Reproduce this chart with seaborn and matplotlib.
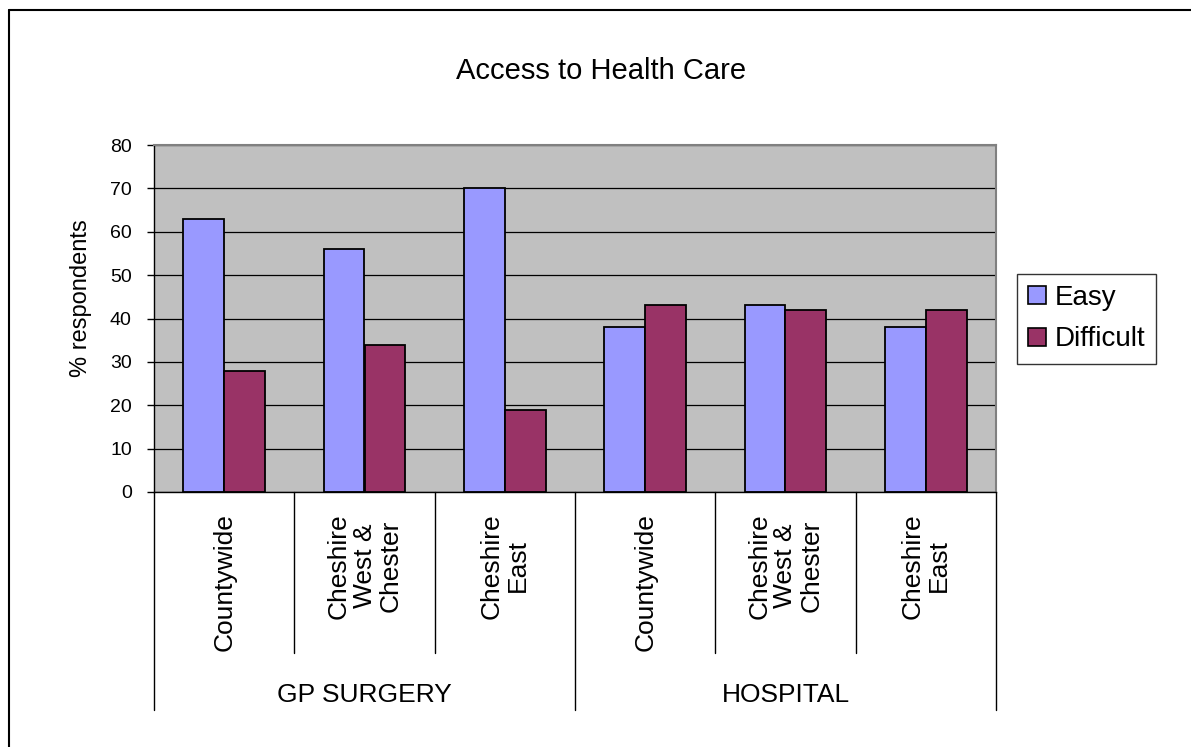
import matplotlib
matplotlib.use("Agg")
import matplotlib.pyplot as plt
import matplotlib.transforms as mtransforms
from matplotlib.lines import Line2D
from matplotlib.patches import Patch
import seaborn as sns
import pandas as pd

# Survey results: share of respondents finding access easy / difficult
groups = ["GP SURGERY", "HOSPITAL"]
areas = ["Countywide", "Cheshire\nWest &\nChester", "Cheshire\nEast"]
series = ["Easy", "Difficult"]
easy = [63, 56, 70, 38, 43, 38]
difficult = [28, 34, 19, 43, 42, 42]
y_ticks = [0, 10, 20, 30, 40, 50, 60, 70, 80]
colors = ["#9999FF", "#993366"]

slots = [f"{g}|{a}" for g in groups for a in areas]
rows = []
for slot, e, d in zip(slots, easy, difficult):
    rows.append({"slot": slot, "series": series[0], "value": e})
    rows.append({"slot": slot, "series": series[1], "value": d})
df = pd.DataFrame(rows)

sns.set_theme(style="white")
plt.rcParams["font.family"] = ["Liberation Sans", "DejaVu Sans"]
plt.rcParams["text.color"] = "black"
plt.rcParams["axes.labelcolor"] = "black"
plt.rcParams["ytick.color"] = "black"

W, H = 1191, 747
fig = plt.figure(figsize=(W / 100, H / 100), dpi=100)
fig.patch.set_facecolor("white")

left, right, top, bottom = 154, 996, 145, 492
ax = fig.add_axes([left / W, 1 - bottom / H, (right - left) / W, (bottom - top) / H])
ax.set_facecolor("#C0C0C0")

sns.barplot(
    data=df, x="slot", y="value", hue="series", order=slots, hue_order=series,
    palette=colors, width=0.58, saturation=1, edgecolor="black", linewidth=1.3,
    legend=False, ax=ax,
)

ax.set_xlim(-0.5, len(slots) - 0.5)
ax.set_ylim(0, 80)
ax.set_yticks(y_ticks)
ax.set_xticks([])
ax.set_xlabel("")
ax.set_ylabel("")
ax.yaxis.grid(True, color="black", linewidth=0.9)
ax.set_axisbelow(True)
ax.tick_params(axis="y", direction="out", length=5, width=1, color="black",
               labelcolor="black", labelsize=14, pad=11, left=True)

for side in ("left", "bottom"):
    ax.spines[side].set_color("black")
    ax.spines[side].set_linewidth(1.0)
for side in ("top", "right"):
    ax.spines[side].set_color("#808080")
    ax.spines[side].set_linewidth(1.5)

# Two-level category axis below the plot
trans = mtransforms.blended_transform_factory(ax.transData, ax.transAxes)
ph = bottom - top
inner_end = -(653 - bottom) / ph
outer_end = -(710 - bottom) / ph
n_areas = len(areas)
for k in range(len(slots) + 1):
    xb = k - 0.5
    yend = outer_end if k % n_areas == 0 else inner_end
    ax.add_line(Line2D([xb, xb], [0, yend], transform=trans, color="black",
                       linewidth=1.0, clip_on=False))

label_top = -(513 - bottom) / ph
for i, slot in enumerate(slots):
    area = slot.split("|")[1]
    ax.text(i, label_top, area, transform=trans, rotation=90, ha="center",
            va="top", multialignment="center", fontsize=19, linespacing=1.1)

group_y = -(702 - bottom) / ph
for gi, g in enumerate(groups):
    xc = gi * n_areas + (n_areas - 1) / 2
    ax.text(xc, group_y, g, transform=trans, ha="center", va="baseline", fontsize=19)

fig.text(601 / W, 1 - 79 / H, "Access to Health Care",
         ha="center", va="baseline", fontsize=21)
fig.text(81 / W, 1 - 298 / H, "% respondents", rotation=90,
         ha="center", va="center", fontsize=17)

handles = [Patch(facecolor=c, edgecolor="black", linewidth=1.2) for c in colors]
leg = fig.legend(
    handles, series, loc="upper left",
    bbox_to_anchor=(1017 / W, 1 - 274 / H), bbox_transform=fig.transFigure,
    fontsize=20, frameon=True, fancybox=False, handlelength=0.65, handleheight=0.62,
    handletextpad=0.3, borderpad=0.4, labelspacing=0.55, borderaxespad=0,
)
leg.get_frame().set_edgecolor("black")
leg.get_frame().set_linewidth(1.0)

# Chart frame
fig.add_artist(Line2D([9 / W, 1], [1 - 10 / H, 1 - 10 / H], transform=fig.transFigure,
                      color="black", linewidth=1.5))
fig.add_artist(Line2D([9 / W, 9 / W], [0, 1 - 10 / H], transform=fig.transFigure,
                      color="black", linewidth=1.5))

fig.savefig("out.png", dpi=100)
